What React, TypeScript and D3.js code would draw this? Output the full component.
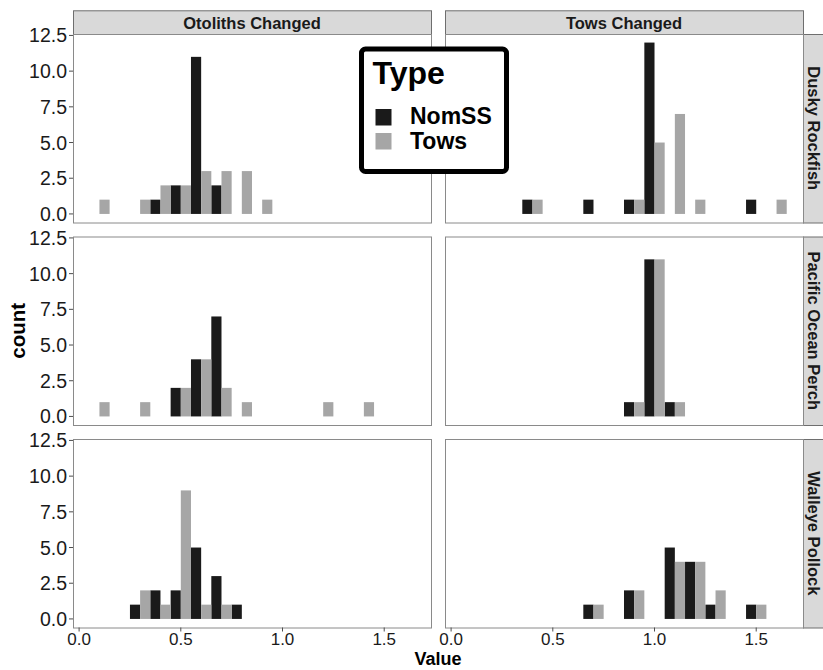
import React, { useRef, useEffect } from 'react';
import * as d3 from 'd3';

// bin centres (binwidth 0.1)
const bins = [0.1, 0.2, 0.3, 0.4, 0.5, 0.6, 0.7, 0.8, 0.9, 1.0, 1.1, 1.2, 1.3, 1.4, 1.5, 1.6];
const species = ['Dusky Rockfish', 'Pacific Ocean Perch', 'Walleye Pollock'];
const changes = ['Otoliths Changed', 'Tows Changed'];
const types = ['NomSS', 'Tows'];
const xTicks = [0.0, 0.5, 1.0, 1.5];
const yTicks = [0.0, 2.5, 5.0, 7.5, 10.0, 12.5];

// counts per bin
const duskyOtolithsNomSS = [0, 0, 0, 1, 2, 11, 2, 0, 0, 0, 0, 0, 0, 0, 0, 0];
const duskyOtolithsTows = [1, 0, 1, 2, 2, 3, 3, 3, 1, 0, 0, 0, 0, 0, 0, 0];
const duskyTowsNomSS = [0, 0, 0, 1, 0, 0, 1, 0, 1, 12, 0, 0, 0, 0, 1, 0];
const duskyTowsTows = [0, 0, 0, 1, 0, 0, 0, 0, 1, 5, 7, 1, 0, 0, 0, 1];
const popOtolithsNomSS = [0, 0, 0, 0, 2, 4, 7, 0, 0, 0, 0, 0, 0, 0, 0, 0];
const popOtolithsTows = [1, 0, 1, 0, 2, 4, 2, 1, 0, 0, 0, 1, 0, 1, 0, 0];
const popTowsNomSS = [0, 0, 0, 0, 0, 0, 0, 0, 1, 11, 1, 0, 0, 0, 0, 0];
const popTowsTows = [0, 0, 0, 0, 0, 0, 0, 0, 1, 11, 1, 0, 0, 0, 0, 0];
const pollockOtolithsNomSS = [0, 0, 1, 2, 2, 5, 3, 1, 0, 0, 0, 0, 0, 0, 0, 0];
const pollockOtolithsTows = [0, 0, 2, 1, 9, 1, 1, 0, 0, 0, 0, 0, 0, 0, 0, 0];
const pollockTowsNomSS = [0, 0, 0, 0, 0, 0, 1, 0, 2, 0, 5, 4, 1, 0, 1, 0];
const pollockTowsTows = [0, 0, 0, 0, 0, 0, 1, 0, 2, 0, 4, 4, 2, 0, 1, 0];

// [row][col] -> [NomSS, Tows]
const panels = [
  [[duskyOtolithsNomSS, duskyOtolithsTows], [duskyTowsNomSS, duskyTowsTows]],
  [[popOtolithsNomSS, popOtolithsTows], [popTowsNomSS, popTowsTows]],
  [[pollockOtolithsNomSS, pollockOtolithsTows], [pollockTowsNomSS, pollockTowsTows]],
];

const fills = { NomSS: '#1a1a1a', Tows: '#a6a6a6' };
const FONT = '"Liberation Sans", Arial, Helvetica, sans-serif';

const App = () => {
  const svgRef = useRef(null);
  const width = 823;
  const height = 670;

  useEffect(() => {
    const svg = d3.select(svgRef.current);
    svg.selectAll('*').remove();

    // layout
    const colX = [73, 445];
    const panelW = 358;
    const rowY = [34, 236.5, 439];
    const panelH = 188.5;
    const stripTop = 10.3;
    const stripRightX = 803;

    const xScale = d3.scaleLinear().domain([-0.03, 1.73]).range([0, panelW]);
    const yScale = d3.scaleLinear().domain([-0.6, 12.6]).range([panelH, 0]);
    const half = 0.05;

    svg.append('rect').attr('width', width).attr('height', height).attr('fill', 'white');

    // top strips
    changes.forEach((c, ci) => {
      svg.append('rect')
        .attr('x', colX[ci] + 0.5).attr('y', stripTop + 0.5)
        .attr('width', panelW).attr('height', rowY[0] - stripTop)
        .attr('fill', '#d9d9d9').attr('stroke', '#6e6e6e').attr('stroke-width', 1);
      svg.append('text')
        .attr('x', colX[ci] + panelW / 2).attr('y', (stripTop + rowY[0]) / 2 + 1)
        .attr('text-anchor', 'middle').attr('dominant-baseline', 'central')
        .style('font-family', FONT).style('font-weight', 'bold').style('font-size', '16.5px')
        .attr('fill', '#1a1a1a')
        .text(c);
    });

    // right strips
    species.forEach((s, ri) => {
      svg.append('rect')
        .attr('x', stripRightX + 0.5).attr('y', rowY[ri] + 0.5)
        .attr('width', 24).attr('height', panelH)
        .attr('fill', '#d9d9d9').attr('stroke', '#6e6e6e').attr('stroke-width', 1);
      const cx = stripRightX + 11;
      const cy = rowY[ri] + panelH / 2;
      svg.append('text')
        .attr('transform', `translate(${cx},${cy}) rotate(90)`)
        .attr('text-anchor', 'middle').attr('dominant-baseline', 'central')
        .style('font-family', FONT).style('font-weight', 'bold').style('font-size', '16.5px')
        .attr('fill', '#1a1a1a')
        .text(s);
    });

    // panels
    rowY.forEach((py, ri) => {
      colX.forEach((px, ci) => {
        const g = svg.append('g').attr('transform', `translate(${px},${py})`);
        g.append('rect')
          .attr('width', panelW).attr('height', panelH)
          .attr('fill', 'white');

        types.forEach((t, ti) => {
          const counts = panels[ri][ci][ti];
          const rows = bins.map((b, i) => ({ b, n: counts[i] })).filter(d => d.n > 0);
          g.selectAll(`.bar-${t}`)
            .data(rows)
            .enter()
            .append('rect')
            .attr('x', d => xScale(ti === 0 ? d.b - half : d.b))
            .attr('width', xScale(half) - xScale(0))
            .attr('y', d => yScale(d.n))
            .attr('height', d => yScale(0) - yScale(d.n))
            .attr('fill', fills[t]);
        });

        g.append('rect')
          .attr('x', 0.5).attr('y', 0.5)
          .attr('width', panelW).attr('height', panelH)
          .attr('fill', 'none').attr('stroke', '#8a8a8a').attr('stroke-width', 1);

        // y axis on left column
        if (ci === 0) {
          yTicks.forEach(v => {
            g.append('line')
              .attr('x1', -4).attr('x2', 0)
              .attr('y1', yScale(v)).attr('y2', yScale(v))
              .attr('stroke', '#4d4d4d');
            g.append('text')
              .attr('x', -6).attr('y', yScale(v))
              .attr('text-anchor', 'end').attr('dominant-baseline', 'central')
              .style('font-family', FONT).style('font-size', '19.5px')
              .attr('fill', '#1a1a1a')
              .text(d3.format('.1f')(v));
          });
        }

        // x axis on bottom row
        if (ri === rowY.length - 1) {
          xTicks.forEach(v => {
            g.append('line')
              .attr('x1', xScale(v)).attr('x2', xScale(v))
              .attr('y1', panelH).attr('y2', panelH + 4)
              .attr('stroke', '#4d4d4d');
            g.append('text')
              .attr('x', xScale(v)).attr('y', panelH + 17.5)
              .attr('text-anchor', 'middle')
              .style('font-family', FONT).style('font-size', '17px')
              .attr('fill', '#1a1a1a')
              .text(d3.format('.1f')(v));
          });
        }
      });
    });

    // axis titles
    svg.append('text')
      .attr('x', (colX[0] + stripRightX) / 2).attr('y', 665)
      .attr('text-anchor', 'middle')
      .style('font-family', FONT).style('font-weight', 'bold').style('font-size', '18px')
      .text('Value');

    svg.append('text')
      .attr('transform', `translate(25,${(rowY[0] + rowY[2] + panelH) / 2}) rotate(-90)`)
      .attr('text-anchor', 'middle')
      .style('font-family', FONT).style('font-weight', 'bold').style('font-size', '20.5px')
      .text('count');

    // legend
    const lg = svg.append('g').attr('transform', 'translate(361.5,49)');
    lg.append('rect')
      .attr('width', 145).attr('height', 122.5).attr('rx', 4)
      .attr('fill', 'white').attr('stroke', 'black').attr('stroke-width', 5);
    lg.append('text')
      .attr('x', 11).attr('y', 35)
      .style('font-family', FONT).style('font-weight', 'bold').style('font-size', '32px')
      .text('Type');
    types.forEach((t, i) => {
      lg.append('rect')
        .attr('x', 14).attr('y', 60 + i * 24)
        .attr('width', 16).attr('height', 16.5)
        .attr('fill', fills[t]);
      lg.append('text')
        .attr('x', 48.5).attr('y', 75 + i * 24.5)
        .style('font-family', FONT).style('font-weight', 'bold').style('font-size', '23px')
        .text(t);
    });
  }, []);

  return (
    <svg ref={svgRef} width={width} height={height}
      style={{ position: 'absolute', left: 0, top: 0, display: 'block' }}></svg>
  );
};

export default App;
